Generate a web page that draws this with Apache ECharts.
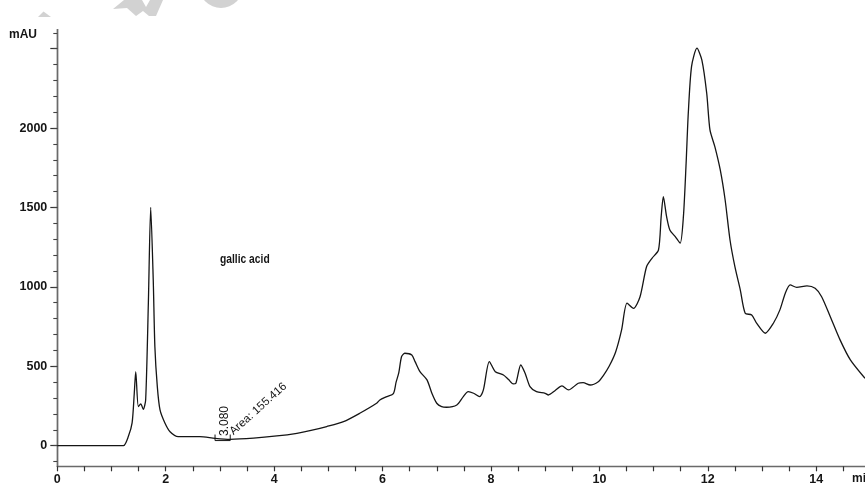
<!DOCTYPE html>
<html>
<head>
<meta charset="utf-8">
<title>HPLC chromatogram</title>
<script src="https://cdn.jsdelivr.net/npm/echarts@6/dist/echarts.min.js"></script>
<style>
  html, body { margin: 0; padding: 0; background: #ffffff; }
  #chart { width: 865px; height: 484px; }
</style>
</head>
<body>
<div id="chart"></div>
<script>
// Retention time (min) and detector response (mAU) of the chromatogram trace
const retentionTime = [
  0, 1.0, 1.22, 1.31, 1.38, 1.42, 1.447, 1.495, 1.54, 1.586, 1.63, 1.68, 1.723, 1.77, 1.80,
  1.845, 1.895, 1.987, 2.08, 2.23, 2.63, 2.91, 3.19, 3.62, 4.05, 4.42, 4.66, 4.97, 5.28,
  5.58, 5.89, 5.95, 6.08, 6.2, 6.25, 6.3, 6.35, 6.41, 6.54, 6.60, 6.69, 6.82, 6.91, 7.0,
  7.09, 7.18, 7.37, 7.49, 7.58, 7.68, 7.79, 7.86, 7.97, 8.08, 8.23, 8.32, 8.41, 8.46, 8.55,
  8.63, 8.72, 8.84, 9.0, 9.06, 9.18, 9.31, 9.43, 9.61, 9.70, 9.83, 9.98, 10.07, 10.18, 10.3,
  10.41, 10.51, 10.63, 10.75, 10.87, 10.97, 11.09, 11.14, 11.18, 11.24, 11.30, 11.40, 11.49,
  11.55, 11.60, 11.64, 11.70, 11.80, 11.89, 11.98, 12.04, 12.13, 12.23, 12.32, 12.41, 12.50,
  12.60, 12.69, 12.81, 12.90, 13.06, 13.21, 13.33, 13.43, 13.52, 13.64, 13.83, 13.98, 14.1,
  14.26, 14.44, 14.63, 14.9
];
const absorbance = [
  0, 0, 0, 57, 143, 330, 466, 246, 263, 229, 288, 900, 1501, 1043, 623,
  372, 225, 141, 88, 57, 57, 46, 40, 47, 61, 78, 94, 120, 151,
  204, 267, 288, 309, 328, 400, 460, 560, 582, 571, 529, 466, 414, 330, 267,
  246, 242, 256, 309, 340, 330, 309, 351, 529, 466, 445, 418, 389, 393, 508,
  456, 372, 340, 330, 319, 346, 376, 351, 393, 397, 382, 403, 440, 500, 590,
  729, 897, 865, 938, 1127, 1180, 1232, 1442, 1568, 1442, 1358, 1316, 1275,
  1442, 1778, 2093, 2387, 2503, 2429, 2219, 1988, 1883, 1736, 1547, 1295, 1127,
  980, 834, 823, 771, 708, 771, 855, 960, 1012, 997, 1006, 991, 938,
  812, 666, 540, 424
];

// Integrated peak (retention time, area) and its integration bracket
const peakTime = 3.080;
const peakArea = 155.416;
const bracketTime = [2.91, 2.91, 3.19, 3.19];
const bracketLevel = [70, 32, 32, 70];

// Axis tick positions
const xLabelValues = [0, 2, 4, 6, 8, 10, 12, 14];
const xTickValues = [0, 0.5, 1, 1.5, 2, 2.5, 3, 3.5, 4, 4.5, 5, 5.5, 6, 6.5, 7, 7.5,
  8, 8.5, 9, 9.5, 10, 10.5, 11, 11.5, 12, 12.5, 13, 13.5, 14, 14.5];
const yLabelValues = [0, 500, 1000, 1500, 2000];
const yMajorTickValues = [0, 500, 1000, 1500, 2000, 2500];
const yMinorTickValues = [-100, 0, 100, 200, 300, 400, 500, 600, 700, 800, 900, 1000,
  1100, 1200, 1300, 1400, 1500, 1600, 1700, 1800, 1900, 2000, 2100, 2200, 2300, 2400,
  2500, 2600];

const X_MIN = 0, X_MAX = 14.9;
const Y_MIN = -130, Y_MAX = 2620;

const ink = '#151515';
const labelFont = { fontFamily: 'Liberation Sans, Arial, sans-serif', fontWeight: 'bold', fontSize: 12.5, color: ink };
const plainNumber = (v) => String(v);

const chart = echarts.init(document.getElementById('chart'), null, { renderer: 'canvas' });

const yAxisBase = {
  type: 'value', min: Y_MIN, max: Y_MAX, position: 'left',
  axisLine: { show: true, onZero: false, lineStyle: { color: '#6a6a6a', width: 1.4 } },
  splitLine: { show: false }
};

chart.setOption({
  animation: false,
  backgroundColor: '#ffffff',
  grid: { left: 57.3, right: 0, top: 29.6, bottom: 17.7, outerBoundsMode: 'none' },
  xAxis: {
    type: 'value', min: X_MIN, max: X_MAX,
    axisLine: { show: true, onZero: false, lineStyle: { color: '#6a6a6a', width: 1.4 } },
    axisTick: { show: true, inside: false, length: 5, customValues: xTickValues, lineStyle: { color: '#333', width: 1.2 } },
    axisLabel: Object.assign({ margin: 7, customValues: xLabelValues, formatter: plainNumber }, labelFont),
    splitLine: { show: false }
  },
  yAxis: [
    Object.assign({}, yAxisBase, {
      axisTick: { show: true, length: 7, customValues: yMajorTickValues, lineStyle: { color: '#333', width: 1.2 } },
      axisLabel: Object.assign({ margin: 10, customValues: yLabelValues, formatter: plainNumber }, labelFont)
    }),
    Object.assign({}, yAxisBase, {
      axisTick: { show: true, length: 4, customValues: yMinorTickValues, lineStyle: { color: '#444', width: 1.1 } },
      axisLabel: { show: false }
    })
  ],
  series: [
    {
      type: 'line',
      data: retentionTime.map((t, i) => [t, absorbance[i]]),
      showSymbol: false,
      smooth: 0.25,
      lineStyle: { color: ink, width: 1.3 },
      z: 3
    },
    {
      type: 'line',
      data: bracketTime.map((t, i) => [t, bracketLevel[i]]),
      showSymbol: false,
      lineStyle: { color: ink, width: 1 },
      z: 2
    }
  ]
});

// Annotation text placed from the data coordinates of the integrated peak
const peakPx = chart.convertToPixel({ gridIndex: 0 }, [peakTime, 0]);
const annotationFont = 'Liberation Sans, Arial, sans-serif';

chart.setOption({
  graphic: [
    // faint watermark fragments along the top edge
    { type: 'polygon', z: -10, shape: { points: [[38, 17], [43.5, 11.5], [51, 17]] }, style: { fill: '#d2d2d2' } },
    { type: 'polygon', z: -10, shape: { points: [[113, 9], [124, 0], [142, 0], [146, 7], [150, 0], [163, 0], [156, 16], [149, 16], [143, 11], [136, 16], [127, 8]] }, style: { fill: '#d2d2d2' } },
    { type: 'circle', z: -10, shape: { cx: 221, cy: -14, r: 22 }, style: { fill: '#d2d2d2' } },
    // axis unit labels
    { type: 'text', x: 9, y: 35, style: { text: 'mAU', fontFamily: annotationFont, fontWeight: 'bold', fontSize: 12, fill: ink, align: 'left', verticalAlign: 'middle' } },
    { type: 'text', x: 852, y: 479, style: { text: 'min', fontFamily: annotationFont, fontWeight: 'bold', fontSize: 12, fill: ink, align: 'left', verticalAlign: 'middle' } },
    // compound name
    { type: 'text', x: 220, y: 259, scaleX: 0.79, style: { text: 'gallic acid', fontFamily: annotationFont, fontWeight: 'bold', fontSize: 13, fill: ink, align: 'left', verticalAlign: 'middle' } },
    // retention time and area of the integrated peak
    { type: 'text', x: peakPx[0], y: 436, rotation: Math.PI / 2, style: { text: peakTime.toFixed(3), fontFamily: annotationFont, fontSize: 12, fill: ink, align: 'left', verticalAlign: 'middle' } },
    { type: 'text', x: peakPx[0] + 7, y: 433, rotation: 0.73, style: { text: 'Area: ' + peakArea.toFixed(3), fontFamily: annotationFont, fontSize: 11.5, fill: ink, align: 'left', verticalAlign: 'middle' } }
  ]
});
</script>
</body>
</html>
